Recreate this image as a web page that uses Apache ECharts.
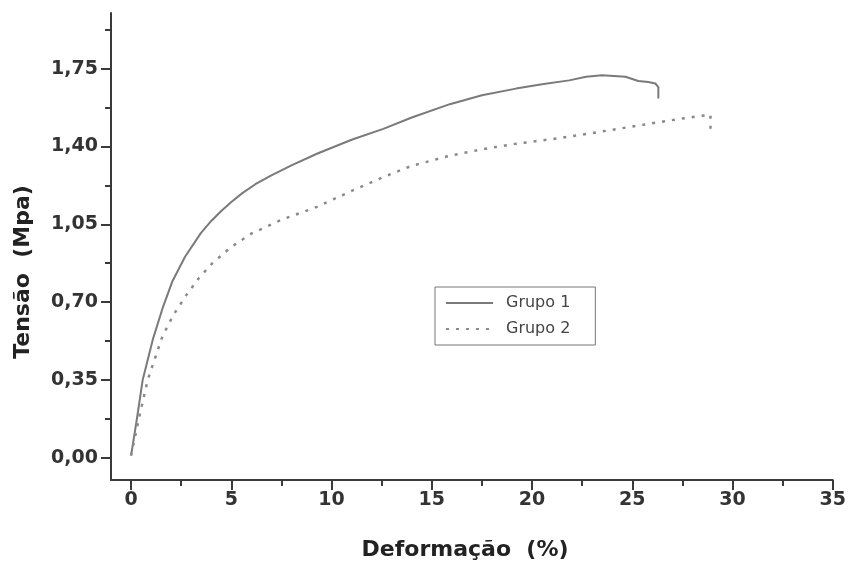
<!DOCTYPE html>
<html>
<head>
<meta charset="utf-8">
<script src="https://cdn.jsdelivr.net/npm/echarts@6/dist/echarts.min.js"></script>
<style>html,body{margin:0;padding:0;background:#fff}#c{width:849px;height:563px}</style>
</head>
<body>
<div id="c"></div>
<script>
// Data: [deformação %, tensão MPa]
const grupo1 = [
  [0,0.01],[0.3,0.18],[0.58,0.35],[1.08,0.53],[1.6,0.68],[2.07,0.795],[2.7,0.905],
  [3.48,1.01],[4.0,1.065],[4.5,1.11],[5.0,1.15],[5.55,1.19],[6.2,1.23],[7,1.27],
  [8,1.315],[9.27,1.367],[11,1.43],[12.58,1.479],[14,1.53],[15.9,1.59],[17.5,1.63],
  [19.2,1.66],[20.5,1.68],[21.85,1.697],[22.7,1.713],[23.5,1.72],[24.66,1.713],
  [25.3,1.694],[25.8,1.69],[26.15,1.683],[26.3,1.667],[26.3,1.615]
];
const grupo2 = [
  [0,0.01],[0.4,0.18],[0.83,0.35],[1.57,0.547],[2.1,0.64],[2.73,0.728],[3.4,0.81],
  [4.06,0.875],[5,0.948],[6,1.008],[7.5,1.07],[9.27,1.128],[11,1.2],[12.58,1.262],
  [14,1.313],[15.9,1.358],[17.5,1.387],[19.2,1.412],[21.35,1.437],[23,1.46],
  [25.3,1.494],[27.3,1.523],[28.9,1.543],[28.9,1.48]
];
const xMajorTicks = [0,5,10,15,20,25,30,35];
const xMinorTicks = [2.5,7.5,12.5,17.5,22.5,27.5,32.5];
const yMajorTicks = [0,0.35,0.70,1.05,1.40,1.75];
const yMinorTicks = [0.175,0.525,0.875,1.225,1.575,1.925];
const seriesNames = ['Grupo 1','Grupo 2'];
const xTitle = 'Deformação  (%)';
const yTitle = 'Tensão  (Mpa)';

const axisColor = '#3a3a3a';
const tickFont = {fontFamily:'DejaVu Sans', fontWeight:'bold', fontSize:19, color:'#333'};
const chart = echarts.init(document.getElementById('c'));
const xRange = {min:-1, max:35};
const yRange = {min:-0.1, max:2.0};
chart.setOption({
  animation:false,
  backgroundColor:'#fff',
  grid:{left:111, right:14, top:13, bottom:83},
  xAxis:[
    {type:'value', ...xRange, splitLine:{show:false},
     axisLine:{show:true, onZero:false, lineStyle:{color:axisColor, width:2}},
     axisTick:{show:true, inside:false, length:10, customValues:xMajorTicks, lineStyle:{color:axisColor, width:2}},
     axisLabel:{customValues:xMajorTicks, margin:11, ...tickFont, showMinLabel:true, showMaxLabel:true}},
    {type:'value', ...xRange, position:'bottom', splitLine:{show:false},
     axisLine:{show:false, onZero:false},
     axisTick:{show:true, inside:false, length:6, customValues:xMinorTicks, lineStyle:{color:axisColor, width:2}},
     axisLabel:{show:false}}
  ],
  yAxis:[
    {type:'value', ...yRange, splitLine:{show:false},
     axisLine:{show:true, onZero:false, lineStyle:{color:axisColor, width:2}},
     axisTick:{show:true, inside:false, length:10, customValues:yMajorTicks, lineStyle:{color:axisColor, width:2}},
     axisLabel:{customValues:yMajorTicks, margin:13, ...tickFont,
       formatter:v=>v.toFixed(2).replace('.',',')}},
    {type:'value', ...yRange, position:'left', splitLine:{show:false},
     axisLine:{show:false, onZero:false},
     axisTick:{show:true, inside:false, length:6, customValues:yMinorTicks, lineStyle:{color:axisColor, width:2}},
     axisLabel:{show:false}}
  ],
  legend:{
    orient:'vertical', left:435, top:287,
    backgroundColor:'#fff', borderColor:'#777', borderWidth:1,
    padding:[8,25,8,10], itemGap:10, itemWidth:47, itemHeight:16,
    itemStyle:{opacity:0},
    textStyle:{fontFamily:'DejaVu Sans', fontSize:16, color:'#444', padding:[0,0,0,8], lineHeight:16},
    data:seriesNames
  },
  series:[
    {name:seriesNames[0], type:'line', data:grupo1, showSymbol:false, symbol:'none', smooth:false,
     lineStyle:{color:'#7a7a7a', width:2}, itemStyle:{color:'#7a7a7a'}},
    {name:seriesNames[1], type:'line', data:grupo2, showSymbol:false, symbol:'none', smooth:false,
     lineStyle:{color:'#8a8a8a', width:2.5, type:[3,7]}, itemStyle:{color:'#8a8a8a'}}
  ],
  graphic:[
    {type:'text', x:465, y:550,
     style:{text:xTitle, fontFamily:'DejaVu Sans', fontWeight:'bold', fontSize:22, fill:'#222', align:'center', verticalAlign:'middle'}},
    {type:'text', x:23, y:272, rotation:Math.PI/2,
     style:{text:yTitle, fontFamily:'DejaVu Sans', fontWeight:'bold', fontSize:22, fill:'#222', align:'center', verticalAlign:'middle'}}
  ]
});
</script>
</body>
</html>
